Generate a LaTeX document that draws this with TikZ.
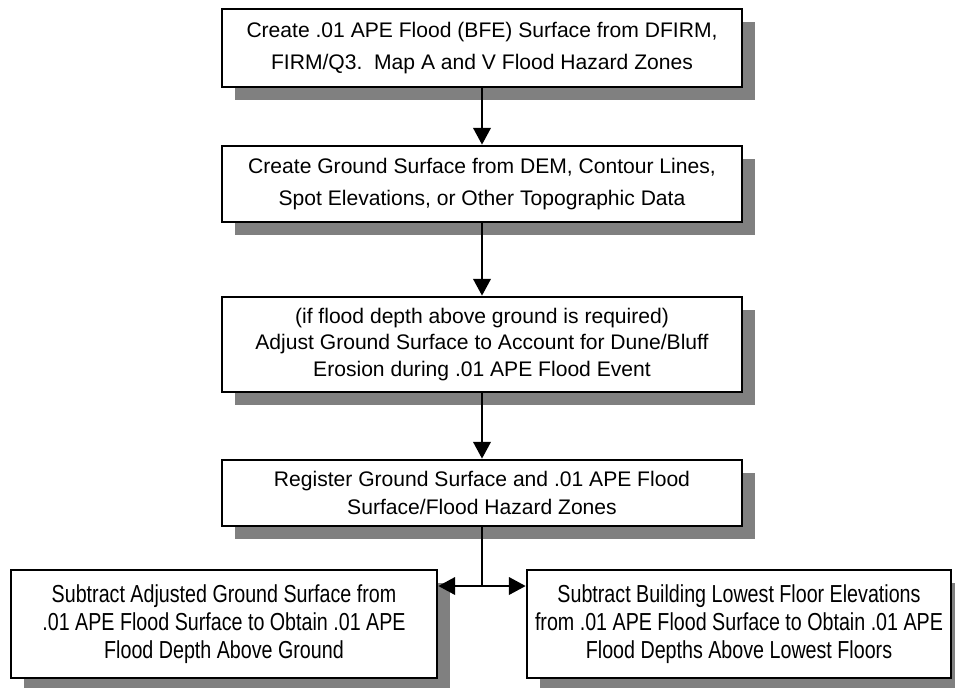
\documentclass[tikz,border=0pt]{standalone}
\usepackage{fontspec}
\setmainfont{Liberation Sans}
\newfontfamily\narrowfont{Liberation Sans}[FakeStretch=0.8]
\usetikzlibrary{arrows.meta,shadows}

\begin{document}
\begin{tikzpicture}[x=0.02cm, y=-0.02cm,
    procbox/.style={draw, line width=1.6pt, fill=white, align=center, inner sep=2pt,
        drop shadow={shadow xshift=0.26cm, shadow yshift=-0.26cm, fill=black!50, opacity=1}},
    flowline/.style={line width=1pt, -{Triangle[width=10pt,length=9.5pt]}}]
    \useasboundingbox (0,0) rectangle (955,687);

    % Flood surface
    \node[procbox, minimum width=10.4cm, minimum height=1.56cm, font={\fontsize{12}{18.5}\selectfont}] (floodsurf) at (482,48)
        {Create .01 APE Flood (BFE) Surface from DFIRM,\\FIRM/Q3.\ \ Map A and V Flood Hazard Zones};

    % Ground surface
    \node[procbox, minimum width=10.4cm, minimum height=1.52cm, font={\fontsize{12}{18.5}\selectfont}] (groundsurf) at (482,184)
        {Create Ground Surface from DEM, Contour Lines,\\Spot Elevations, or Other Topographic Data};

    % Erosion adjustment
    \node[procbox, minimum width=10.4cm, minimum height=1.9cm, font={\fontsize{12}{15}\selectfont}] (erosion) at (482,344.5)
        {(if flood depth above ground is required)\\Adjust Ground Surface to Account for Dune/Bluff\\Erosion during .01 APE Flood Event};

    % Registration
    \node[procbox, minimum width=10.4cm, minimum height=1.32cm, font={\fontsize{12}{16}\selectfont}] (register) at (482,493)
        {Register Ground Surface and .01 APE Flood\\Surface/Flood Hazard Zones};

    % Results
    \node[procbox, minimum width=8.52cm, minimum height=2.16cm, font={\narrowfont\fontsize{14}{16}\selectfont}] (subground) at (224,624)
        {Subtract Adjusted Ground Surface from\\.01 APE Flood Surface to Obtain .01 APE\\Flood Depth Above Ground};
    \node[procbox, minimum width=8.48cm, minimum height=2.16cm, font={\narrowfont\fontsize{14}{16}\selectfont}] (subfloor) at (739,624)
        {Subtract Building Lowest Floor Elevations\\from .01 APE Flood Surface to Obtain .01 APE\\Flood Depths Above Lowest Floors};

    % Connectors
    \draw[flowline] (floodsurf) -- (groundsurf);
    \draw[flowline] (groundsurf) -- (erosion);
    \draw[flowline] (erosion) -- (register);
    \coordinate (split) at (482,586);
    \draw[line width=1pt] (register.south) -- (split);
    \draw[flowline] (split) -- (subground.east |- split);
    \draw[flowline] (split) -- (subfloor.west |- split);
\end{tikzpicture}
\end{document}
